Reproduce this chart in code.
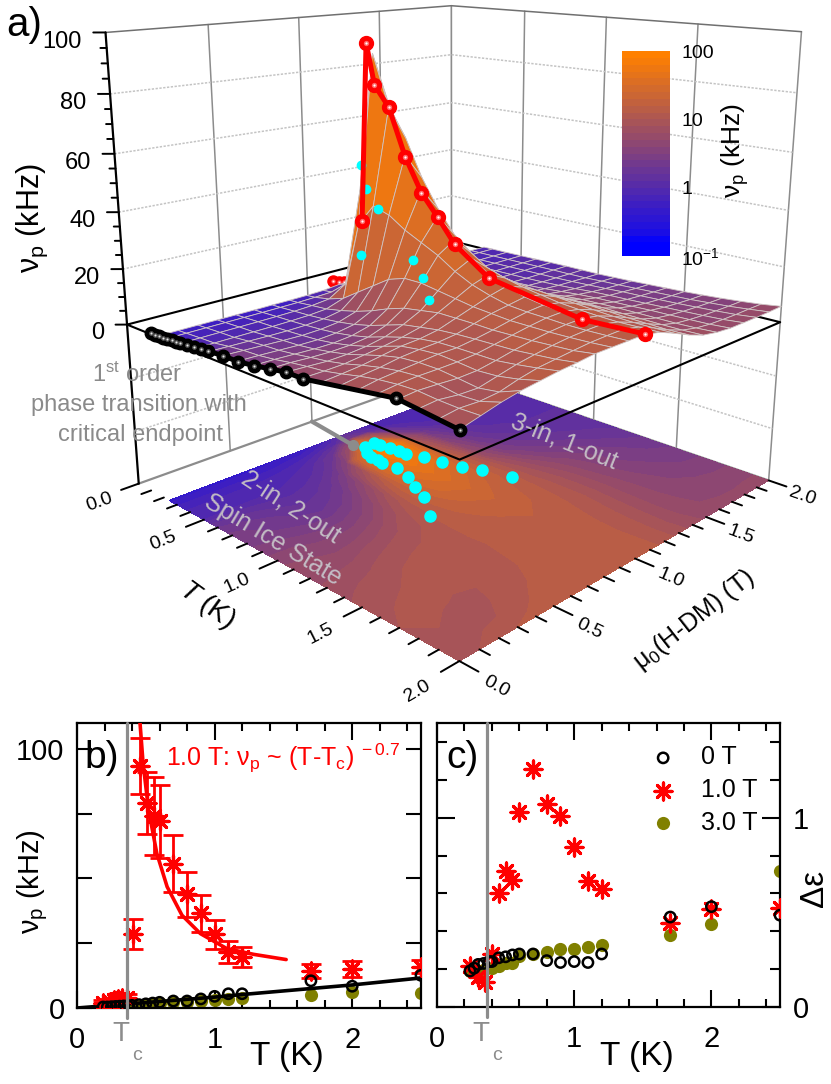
import numpy as np, matplotlib
matplotlib.use('Agg')
import matplotlib.pyplot as plt, seaborn as sns
from matplotlib.colors import LinearSegmentedColormap, ListedColormap, LogNorm

W, Hpx = 831, 1084
sns.set_style('white')
plt.rcParams['font.family'] = ['Liberation Sans', 'DejaVu Sans']
plt.rcParams.update({'mathtext.fontset': 'custom', 'mathtext.rm': 'Liberation Sans',
                     'mathtext.it': 'Liberation Sans:italic', 'mathtext.default': 'rm',
                     'text.color': 'k', 'axes.labelcolor': 'k', 'xtick.color': 'k', 'ytick.color': 'k'})

# ---- data -----------------------------------------------------------------
H_grid = [0, .1, .2, .3, .4, .5, .6, .7, .8, .9, 1.0, 1.1, 1.2, 1.3, 1.4, 1.5, 1.6, 1.7, 1.8, 1.9, 2.0]
T_grid = [.24, .3, .4, .5, .6, .7, .8, .9, 1.0, 1.1, 1.2, 1.3, 1.4, 1.5, 1.6, 1.7, 1.8, 1.9, 2.0]
surface_kHz = [
 [.45, .45, .45, .45, .45, .45, .5, .5, .6, .8, 1.5, 1.0, .8, .8, .8, .8, .8, .8, .8, .8, .8],
 [.6, .6, .6, .6, .6, .6, .65, .7, .9, 1.2, 2.5, 1.6, 1.0, .85, .85, .85, .85, .85, .85, .85, .85],
 [.85, .85, .85, .85, .85, .9, 1, 1.3, 2, 6, 40, 14, 2.4, 1.2, .95, .9, .9, .9, .9, .9, .9],
 [1.0, 1.0, 1.0, 1.0, 1.0, 1.1, 1.3, 1.8, 4, 30, 90, 70, 7, 2.2, 1.3, 1.1, 1, 1, 1, 1, 1],
 [2.0, 1.8, 1.6, 1.4, 1.3, 1.4, 1.8, 3, 8, 38, 72, 60, 10, 3.2, 1.7, 1.3, 1.1, 1.1, 1.1, 1.1, 1.1],
 [2.7, 2.4, 2.1, 1.8, 1.6, 1.8, 2.5, 4.5, 12, 36, 56, 47, 12, 4.2, 2.1, 1.5, 1.3, 1.2, 1.2, 1.2, 1.2],
 [2.9, 2.7, 2.4, 2.1, 2.0, 2.4, 3.5, 6.5, 16, 32, 45, 37, 14, 5, 2.6, 1.8, 1.5, 1.3, 1.3, 1.3, 1.3],
 [3.5, 3.4, 3.1, 2.8, 2.8, 3.4, 5, 9, 18, 29, 37, 29, 15, 6, 3.1, 2.2, 1.8, 1.5, 1.4, 1.3, 1.3],
 [4.5, 4.4, 4, 3.8, 4, 4.8, 7, 11, 18, 26, 30, 24, 15, 8, 4.2, 2.8, 2.2, 1.8, 1.6, 1.4, 1.3],
 [5.5, 5.2, 4.8, 5, 5.6, 6.8, 9, 12, 17, 22, 25, 20, 15, 9, 5.5, 3.6, 2.8, 2.2, 1.9, 1.7, 1.5],
 [5.8, 5.8, 6, 6.8, 7.6, 8.6, 10, 13, 16, 19, 21, 18, 14, 9.5, 6.5, 4.5, 3.4, 2.7, 2.2, 1.9, 1.7],
 [6.5, 7, 7.6, 8.6, 9.6, 10, 11, 13, 15, 17, 18.5, 16.5, 13.5, 10, 7, 5, 3.8, 3, 2.6, 2.2, 2],
 [7.5, 8.4, 9, 10, 10.5, 10.8, 11.5, 13, 14.5, 15.5, 16.5, 15.5, 13, 10, 7.2, 5.2, 4, 3.2, 2.8, 2.5, 2.3],
 [8.5, 9.5, 10, 10.5, 11, 11, 11.8, 12.8, 14, 15, 15.5, 14.5, 12.5, 10, 7.2, 5.4, 4.2, 3.5, 3.1, 2.8, 2.6],
 [9.5, 10.2, 10.5, 10.5, 10.6, 11, 12, 13, 14, 14.8, 15, 14, 12, 9.6, 7, 5.4, 4.5, 3.8, 3.4, 3.1, 3],
 [10, 10.5, 10.2, 9.8, 10, 11, 12.2, 13.2, 14, 14.5, 14.6, 13.6, 11.6, 9.2, 6.9, 5.4, 4.6, 4.1, 3.8, 3.6, 3.5],
 [9.5, 10, 9.2, 9, 10.4, 11.8, 12.8, 13.6, 14.2, 14.5, 14.6, 13.4, 11.4, 9, 6.8, 5.4, 4.8, 4.4, 4.2, 4.1, 4.1],
 [9, 9.8, 9.5, 10, 11.6, 12.8, 13.4, 14, 14.5, 14.7, 14.8, 13.6, 11.4, 8.8, 6.8, 5.6, 5, 4.8, 4.7, 4.8, 4.8],
 [8.5, 10, 11.5, 12.6, 13.3, 14, 14.4, 15, 15, 15, 15, 13.8, 11.5, 9, 7, 6, 5.5, 5.5, 5.5, 5.6, 5.8],
]
cyan_floor_H = [.98, 1.04, 1.04, 1.05, 1.06, 1.06, 1.09, 1.11, 1.14, 1.18, 1.22, .94, .92, .92, .91, .92, .89, .84, .80, .69]
cyan_floor_T = [.42, .42, .46, .52, .57, .62, .71, .81, .91, 1.00, 1.15, .48, .53, .58, .62, .71, .81, .91, 1.01, 1.16]
cyan_up_H = [.98, .94, .92, .91, .84, .80, .69]
cyan_up_T = [.42, .48, .53, .62, .91, 1.01, 1.16]
cyan_up_z = [16, 51, 43, 37, 24, 20, 17]

T_red = [.19, .24, .27, .30, .33, .36, .41, .46, .51, .56, .60, .70, .80, .90, 1.0, 1.1, 1.2, 1.7, 2.0, 2.5]
nu_red = [2, 2.5, 3, 3.5, 3.8, 4, 28.5, 93.5, 79, 74, 72, 55.6, 43.9, 36.5, 28.5, 21.7, 19.7, 14.3, 15.2, 15.9]
err_red = [1, 1, 1, 1.5, 1.5, 1.5, 5.8, 10.8, 12, 15, 14, 11, 8.7, 7.3, 5.6, 4.3, 3.7, 2.8, 3.1, 2.5]
T_black = [.19, .22, .25, .28, .31, .34, .37, .40, .45, .50, .55, .60, .70, .80, .90, 1.0, 1.1, 1.2, 1.7, 2.0, 2.5]
nu_black = [.4, .4, .5, .6, .7, .8, .9, 1, 1.3, 1.6, 1.9, 2.2, 2.7, 2.7, 3.5, 4.5, 5.5, 5.5, 10.5, 8.4, 12.6]
T_olive = [.24, .30, .35, .40, .45, .50, .55, .60, .70, .80, .90, 1.0, 1.1, 1.2, 1.7, 2.0, 2.5]
nu_olive = [.3, .5, .7, .9, 1.1, 1.3, 1.6, 1.8, 2.5, 2.3, 2.7, 3, 3.5, 3.8, 5.2, 6.2, 5.8]
T_fit_red = [.458, .48, .52, .58, .655, .763, .897, 1.09, 1.285, 1.52]
nu_fit_red = [110, 94.6, 76.5, 59.7, 46.8, 35.8, 28.7, 22.9, 20.7, 18.7]
T_fit_black = [0, 1.0, 1.2, 2.0, 2.5]
nu_fit_black = [0, 4.2, 5.2, 8.9, 11.6]

Tc_red = [.24, .30, .35, .40, .45, .50, .55, .60, .70, .80, .90, 1.0, 1.1, 1.2, 1.7, 2.0, 2.5]
eps_red = [.215, .16, .13, .28, .60, .72, .67, 1.03, 1.255, 1.07, 1.01, .845, .665, .625, .445, .52, .525]
Tc_black = [.24, .27, .30, .34, .38, .40, .45, .50, .55, .60, .70, .80, .90, 1.0, 1.1, 1.2, 1.7, 2.0, 2.5]
eps_black = [.19, .205, .225, .23, .24, .24, .26, .265, .275, .28, .28, .245, .235, .24, .235, .28, .475, .53, .485]
eps_olive = [.19, .19, .20, .205, .215, .23, .235, .27, .28, .29, .305, .305, .315, .33, .38, .44, .72]

# ---- figure ---------------------------------------------------------------
fig = plt.figure(figsize=(W / 100, Hpx / 100), dpi=100)
def P(x, y): return x / W, 1 - y / Hpx
ax = fig.add_axes([443.33 / W - .5, 1 - 279.47 / Hpx - 833 / Hpx / 2, 1, 833 / Hpx], projection='3d', computed_zorder=False)
zf = -60.157
ax.view_init(15.85, -135.67)
ax.set_proj_type('persp', focal_length=.28481)
ax.set_box_aspect((1, 1, .99773), zoom=.94546)
ax.set_xlim(0, 2); ax.set_ylim(2, 0); ax.set_zlim(zf, 100)
ax.set_xticks([]); ax.set_yticks([]); ax.set_zticks([])
ax.set_axis_off()
for a_ in (ax.xaxis, ax.yaxis, ax.zaxis):
    a_.set_visible(False); a_.label.set_visible(False); a_.offsetText.set_visible(False)
for t_ in (ax.title, ax._left_title, ax._right_title):
    t_.set_visible(False)

Hg, Tg = np.meshgrid(H_grid, T_grid)
Z = np.array(surface_kHz)
base = LinearSegmentedColormap.from_list('bo', [(0, 0, 1), (1, .5, 0)])
bands = ListedColormap(base(np.linspace(0, 1, 30)))
levels = np.logspace(-1, 2, 31)
norm = LogNorm(.1, 100)

def L(h, t, z, c='k', lw=1.5, ls='-', zo=1):
    ax.plot(h, t, z, color=c, lw=lw, ls=ls, zorder=zo, solid_capstyle='round')
gray = '#8c8c8c'
for v in (.5, 1, 1.5):
    L([v, v], [0, 0], [zf, 100], gray, 1.1); L([2, 2], [v, v], [zf, 100], gray, 1.1)
L([2, 2], [0, 0], [zf, 100], gray, 1.2); L([2, 2], [2, 2], [zf, 100], gray, 1.1)
for z in (-40, -20, 20, 40, 60, 80):
    L([0, 2, 2], [0, 0, 2], [z, z, z], '#c4c4c4', 1.1, (0, (1.5, 1)))
L([0, 2, 2], [0, 0, 2], [100, 100, 100], '#707070', 1.1)
L([0, 2, 2], [0, 0, 2], [zf, zf, zf], gray, 1.6)
ax.contourf(Hg, Tg, Z, levels=levels, norm=norm, cmap=bands, zdir='z', offset=zf, zorder=2)
L([0, 2, 2, 0, 0], [0, 0, 2, 2, 0], [0] * 5, 'k', 1.5, zo=2.5)
L([0, 0], [0, 0], [zf, 100], 'k', 1.6, zo=2.5)
for i in range(21):
    t = i / 10; d = .09 if i % 5 == 0 else .05
    L([0, -d], [t, t], [zf, zf], 'k', 1.4, zo=2.5)
    L([t, t], [2, 2 + d], [zf, zf], 'k', 1.4, zo=2.5)
for z in range(0, 101, 5):
    d = .035 if z % 20 == 0 else .018
    L([0, -d], [0, -d], [z, z], 'k', 1.4, zo=2.5)
for v in (0, .5, 1, 1.5, 2):
    ax.text(-.2, v, zf - 1.7, f'{v:.1f}', (1, 0, 0), ha='center', va='center', fontsize=14, zorder=9)
    ax.text(v, 2.17, zf - 1.7, f'{v:.1f}', (0, 1, 0), ha='center', va='center', fontsize=14, zorder=9)
for z in range(0, 101, 20):
    ax.text(-.07, -.07, z - 3, str(z), ha='right', va='center', fontsize=17, zorder=9)
L([1, .95], [0, .37], [zf, zf], gray, 3, zo=3)
ax.plot([.95], [.37], [zf], 'o', color=gray, ms=7, zorder=3)
ax.plot(cyan_floor_H, cyan_floor_T, [zf] * len(cyan_floor_H), 'o', color='#00ffff', ms=8, ls='none', zorder=3.5)

def balls(h, t, z, main, mid, top, ms, zo):
    ax.plot(h, t, z, 'o', color=main, ms=ms, zorder=zo)
    ax.plot(h, t, z, 'o', color=mid, ms=ms * .38, mew=0, zorder=zo + .01)
    ax.plot(h, t, z, 'o', color=top, ms=ms * .16, mew=0, zorder=zo + .02)

Tr = np.array(T_red); Nr = np.array(nu_red)
low = Tr <= .41
ax.plot(np.ones(low.sum()), Tr[low], Nr[low], '-', color='r', lw=3, zorder=3.6)
balls(np.ones(low.sum()), Tr[low], Nr[low], 'r', '#ff6a6a', '#ffffff', 8, 3.61)
ax.plot_surface(Hg, Tg, Z, rstride=1, cstride=1, cmap=bands, norm=norm, shade=False,
                edgecolor='#cfc4c4', linewidth=.6, antialiased=True, zorder=4)
ax.plot(cyan_up_H, cyan_up_T, cyan_up_z, 'o', color='#00ffff', ms=6, ls='none', zorder=4.5)
hi = (Tr >= .41) & (Tr <= 2) & (Tr != 1.1) & (Tr != .56)
ax.plot(np.ones(hi.sum()), Tr[hi], Nr[hi], '-', color='r', lw=3.6, zorder=5)
balls(np.ones(hi.sum()), Tr[hi], Nr[hi], 'r', '#ff6a6a', '#ffffff', 10, 5.1)
Tb = np.array(T_black); Nb = np.array(nu_black); m = Tb <= 2
ax.plot(np.zeros(m.sum()), Tb[m], Nb[m], '-', color='k', lw=3.6, zorder=5)
balls(np.zeros(m.sum()), Tb[m], Nb[m], 'k', '#555555', '#e8e8e8', 9, 5.2)

cax = fig.add_axes([622 / W, 1 - 256 / Hpx, 48 / W, 205 / Hpx])
cax.pcolormesh([0, 1], levels, np.array(levels[:-1])[:, None], cmap=bands, norm=norm)
cax.set_yscale('log'); cax.set_xticks([]); cax.set_ylim(.1, 100)
cax.yaxis.tick_right()
cax.set_yticks([.1, 1, 10, 100], ['10$^{-1}$', '1', '10', '100'], fontsize=14)
cax.minorticks_off(); cax.tick_params(length=0, pad=8)
for s in cax.spines.values(): s.set_visible(False)

tx = lambda x, y, s, **k: fig.text(*P(x, y), s, ha=k.pop('ha', 'center'), va=k.pop('va', 'center'), **k)
tx(24, 25, 'a)', fontsize=29)
tx(32, 218, 'ν$_{p}$ (kHz)', fontsize=22, rotation=90)
tx(735, 150, 'ν$_{p}$ (kHz)', fontsize=19, rotation=90)
tx(207, 605, '$\\mathit{T}$ (K)', fontsize=20, rotation=-36)
tx(694, 620, 'μ$_0$(H-DM) (T)', fontsize=18, rotation=38)
lab = '#8a8a8a'
tx(137, 375, '1$^{st}$ order', fontsize=17, color=lab)
tx(139, 405, 'phase transition with', fontsize=17, color=lab)
tx(140, 435, 'critical endpoint', fontsize=17, color=lab)
on = '#c3bcc4'
tx(291, 507, '2-in, 2-out', fontsize=18, rotation=-33, color=on, rotation_mode='anchor')
tx(273, 540, 'Spin Ice State', fontsize=18, rotation=-31, color=on, rotation_mode='anchor')
tx(564, 441, '3-in, 1-out', fontsize=18, rotation=-22, color=on, rotation_mode='anchor')

Tc = .364
star = (8, 2, 0)
def style(a):
    a.set_xlim(0, 2.5)
    a.set_xticks([0, 1, 2]); a.set_xticks(np.arange(0, 2.5, .2), minor=True)
    a.tick_params(which='major', axis='x', direction='in', top=True, bottom=True, length=12, width=1.5, labelsize=21, pad=13)
    a.tick_params(which='minor', axis='x', direction='in', top=True, bottom=True, length=6, width=1.5)
    for s in a.spines.values(): s.set_linewidth(1.6); s.set_color('k')
    a.axvline(Tc, ymin=-.035, ymax=1, color='#8c8c8c', lw=2.3, clip_on=False, zorder=6)
    a.set_xlabel(''); a.set_ylabel('')

bx = fig.add_axes([77 / W, 1 - 1008 / Hpx, 344 / W, 285 / Hpx])
sns.lineplot(x=T_fit_red, y=nu_fit_red, color='r', lw=2.6, ax=bx, errorbar=None, sort=False, zorder=3)
sns.lineplot(x=T_fit_black, y=nu_fit_black, color='k', lw=2.6, ax=bx, errorbar=None, sort=False, zorder=4)
sns.scatterplot(x=T_olive, y=nu_olive, color='olive', s=90, linewidth=0, ax=bx, zorder=2)
bx.errorbar(T_red, nu_red, yerr=err_red, fmt='none', ecolor='r', elinewidth=2, capsize=7, capthick=2, zorder=3)
sns.scatterplot(x=T_red, y=nu_red, color='r', marker=star, s=150, linewidth=2.3, ax=bx, zorder=4)
sns.scatterplot(x=T_black, y=nu_black, facecolors='none', edgecolor='k', s=55, linewidth=1.8, ax=bx, zorder=5)
bx.set_ylim(0, 110)
bx.set_yticks([0, 100], ['0', '100'], fontsize=21); bx.set_yticks([25, 50, 75], minor=True)
bx.tick_params(which='both', axis='y', direction='in', left=True, right=True, length=11, width=1.5, labelsize=21, pad=9)
style(bx)
tx(102, 758, 'b)', fontsize=28)
tx(166, 758, '1.0 T: ν$_{p}$ ~ (T-T$_{c}$)$^{\\ -0.7}$', fontsize=18, color='r', ha='left')
tx(33, 882, 'ν$_{p}$ (kHz)', fontsize=21, rotation=90)
tx(287, 1057, 'T (K)', fontsize=24)

cx_ = fig.add_axes([437 / W, 1 - 1007 / Hpx, 343 / W, 284 / Hpx])
sns.scatterplot(x=T_olive, y=eps_olive, color='olive', s=90, linewidth=0, ax=cx_, zorder=2, label='3.0 T')
sns.scatterplot(x=Tc_red, y=eps_red, color='r', marker=star, s=150, linewidth=2.3, ax=cx_, zorder=3, label='1.0 T')
sns.scatterplot(x=Tc_black, y=eps_black, facecolors='none', edgecolor='k', s=55, linewidth=1.8, ax=cx_, zorder=4, label='0 T')
cx_.set_ylim(0, 1.5)
cx_.set_yticks([0, 1], ['0', '1'], fontsize=21); cx_.set_yticks(np.arange(.2, 1.5, .2), minor=True)
cx_.tick_params(which='major', axis='y', direction='in', left=True, right=True, labelleft=False, labelright=True, length=13, width=1.5, labelsize=21, pad=9)
cx_.tick_params(which='minor', axis='y', direction='in', left=True, right=True, length=7, width=1.5)
style(cx_)
h, l = cx_.get_legend_handles_labels()
cx_.legend(h[::-1], l[::-1], loc='upper left', bbox_to_anchor=(.55, .965), frameon=False, fontsize=18,
           labelspacing=.35, handletextpad=.5, borderpad=0)
tx(463, 758, 'c)', fontsize=28)
tx(637, 1057, 'T (K)', fontsize=24)
tx(815, 888, 'Δε', fontsize=24, rotation=90)
for x0 in (77 + Tc * 137.6, 437 + Tc * 137.2):
    tx(x0 - 6, 1034, 'T', fontsize=20, color='#8c8c8c')
    tx(x0 + 10, 1055, 'c', fontsize=14, color='#8c8c8c')
fig.savefig('out.png', dpi=100)
